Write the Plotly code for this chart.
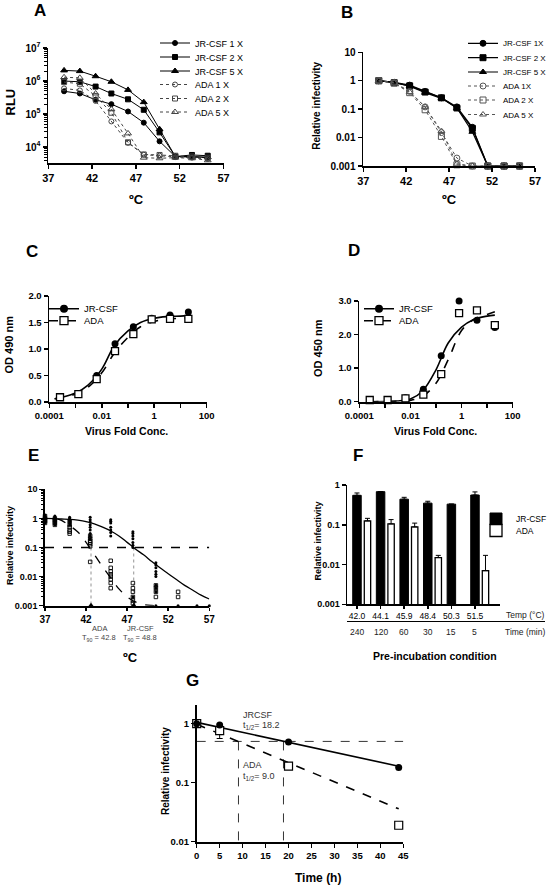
import plotly.graph_objects as go

W, H = 556, 892
FONT = "Liberation Sans, Arial, Helvetica, sans-serif"

# ---------------- data ----------------
# Panels A / B : temperature gradient (deg C)
temps_ab = [38.8, 40.6, 42.4, 44.2, 46.1, 47.9, 49.7, 51.5, 53.4, 55.2]

a_labels = ["JR-CSF 1 X", "JR-CSF 2 X", "JR-CSF 5 X", "ADA 1 X", "ADA 2 X", "ADA 5 X"]
a_jr1 = [4.9e5, 4.2e5, 2.7e5, 2.0e5, 1.2e5, 5.5e4, 1.5e4, 5.2e3, 5.0e3, 4.8e3]
a_jr2 = [1.0e6, 9.5e5, 6.8e5, 4.2e5, 2.8e5, 1.35e5, 2.8e4, 5.2e3, 5.8e3, 5.5e3]
a_jr5 = [2.1e6, 2.0e6, 1.4e6, 9.5e5, 5.4e5, 2.3e5, 3.5e4, 5.2e3, 5.2e3, 5.0e3]
a_ada1 = [6.0e5, 5.2e5, 2.5e5, 6.0e4, 1.35e4, 5.9e3, 5.5e3, 5.0e3, 4.8e3, 4.4e3]
a_ada2 = [9.3e5, 8.3e5, 3.5e5, 1.1e5, 1.4e4, 6.0e3, 5.8e3, 5.5e3, 5.2e3, 4.8e3]
a_ada5 = [1.3e6, 1.25e6, 4.2e5, 1.4e5, 2.6e4, 4.8e3, 4.6e3, 4.8e3, 4.6e3, 4.0e3]
a_axis_marks = [2.2e6, 1.8e5]

b_labels = ["JR-CSF 1X", "JR-CSF 2 X", "JR-CSF 5 X", "ADA 1X", "ADA 2 X", "ADA 5 X"]
b_jr1 = [1.0, 0.88, 0.70, 0.42, 0.25, 0.12, 0.023, 0.001, 0.001, 0.001]
b_jr2 = [1.0, 0.85, 0.66, 0.40, 0.25, 0.11, 0.021, 0.001, 0.001, 0.001]
b_jr5 = [1.0, 0.87, 0.64, 0.38, 0.24, 0.11, 0.016, 0.001, 0.001, 0.001]
b_ada1 = [1.0, 0.86, 0.42, 0.12, 0.015, 0.0019, 0.001, 0.001, 0.001, 0.001]
b_ada2 = [1.0, 0.82, 0.38, 0.095, 0.011, 0.0011, 0.001, 0.001, 0.001, 0.001]
b_ada5 = [1.0, 0.85, 0.40, 0.12, 0.017, 0.0012, 0.001, 0.001, 0.001, 0.001]

# Panels C / D : virus dilution series
conc = [0.000256, 0.00128, 0.0064, 0.032, 0.16, 0.8, 4.0, 20.0]
c_jr = [0.10, 0.16, 0.50, 1.10, 1.42, 1.58, 1.64, 1.70]
c_ada = [0.09, 0.15, 0.43, 0.96, 1.28, 1.56, 1.57, 1.57]
c_fit_x = [0.00016, 0.0003, 0.001, 0.003, 0.01, 0.03, 0.1, 0.3, 1.0, 3.0, 10.0, 20.0]
c_fit_jr = [0.06, 0.09, 0.17, 0.32, 0.62, 1.06, 1.34, 1.50, 1.58, 1.61, 1.62, 1.63]
c_fit_ada = [0.06, 0.08, 0.15, 0.28, 0.55, 0.92, 1.22, 1.42, 1.52, 1.56, 1.58, 1.59]

d_jr = [0.05, 0.05, 0.12, 0.37, 1.37, 3.00, 2.43, 2.21]
d_ada = [0.05, 0.05, 0.10, 0.21, 0.82, 2.64, 2.72, 2.28]
d_fit_x = [0.00025, 0.001, 0.003, 0.01, 0.03, 0.1, 0.3, 1.0, 3.0, 10.0, 20.0]
d_fit_jr = [0.0, 0.005, 0.02, 0.08, 0.32, 0.95, 1.75, 2.22, 2.45, 2.55, 2.58]
d_fit_ada = [0.0, 0.003, 0.01, 0.04, 0.16, 0.55, 1.25, 2.12, 2.45, 2.60, 2.68]

# Panel E : pooled relative infectivity
e_jr_temp = [37.0] * 11 + [38.2] * 8 + [40.0] * 7 + [42.5] * 9 + [45.0] * 7 + [47.7] * 8 + [50.5] * 10 + [53.2, 55.5, 57.0]
e_jr_vals = ([1.3, 1.2, 1.1, 1.05, 1.0, 0.95, 0.9, 0.85, 0.8, 0.75, 0.7]
             + [1.2, 1.1, 1.0, 0.95, 0.9, 0.8, 0.7, 0.6]
             + [1.1, 1.0, 0.9, 0.85, 0.8, 0.7, 0.6]
             + [1.1, 0.9, 0.75, 0.6, 0.5, 0.4, 0.3, 0.25, 0.2]
             + [0.9, 0.8, 0.7, 0.5, 0.4, 0.33, 0.25]
             + [0.35, 0.3, 0.25, 0.2, 0.15, 0.12, 0.1, 0.002]
             + [0.03, 0.025, 0.02, 0.015, 0.012, 0.01, 0.005, 0.004, 0.003, 0.001]
             + [0.001, 0.001, 0.001])
e_ada_temp = [37.0] * 5 + [38.2] * 5 + [40.0] * 6 + [42.5] * 7 + [45.0] * 8 + [47.7] * 6 + [50.5] * 4 + [53.2] * 2
e_ada_vals = ([1.2, 1.0, 0.9, 0.8, 0.7]
              + [1.0, 0.9, 0.8, 0.7, 0.6]
              + [0.8, 0.6, 0.5, 0.4, 0.35, 0.3]
              + [0.25, 0.2, 0.17, 0.15, 0.13, 0.11, 0.032]
              + [0.035, 0.02, 0.015, 0.012, 0.01, 0.008, 0.006, 0.004]
              + [0.006, 0.004, 0.003, 0.002, 0.0015, 0.0012]
              + [0.005, 0.004, 0.003, 0.002]
              + [0.003, 0.002])
e_fit_t = [37, 38, 39, 40, 41, 42, 43, 44, 45, 46, 47, 48, 49, 50, 51, 52, 53, 54, 55, 56, 57]
e_fit_jr = [1.0, 0.98, 0.955, 0.93, 0.87, 0.78, 0.65, 0.5, 0.37, 0.25, 0.15, 0.089, 0.056,
            0.033, 0.02, 0.0126, 0.0079, 0.005, 0.0034, 0.0023, 0.0017]
e_fit_ada_t = [38.5, 39, 40, 41, 42, 43, 44, 45, 46, 47, 48, 49, 50, 51]
e_fit_ada = [0.96, 0.85, 0.56, 0.34, 0.15, 0.058, 0.022, 0.009, 0.0038, 0.002, 0.00135, 0.0011, 0.00102, 0.001]
e_cutoff = 0.1
e_cross_temp = [42.6, 47.8]
e_t90_names = ["ADA", "JR-CSF"]
e_t90_values = ["42.8", "48.8"]

# Panel F : pre-incubation conditions
f_temps = ["42.0", "44.1", "45.9", "48.4", "50.3", "51.5"]
f_times = ["240", "120", "60", "30", "15", "5"]
f_jr = [0.55, 0.68, 0.44, 0.35, 0.33, 0.56]
f_jr_err = [0.08, 0.0, 0.05, 0.04, 0.0, 0.11]
f_ada = [0.125, 0.105, 0.088, 0.015, None, 0.007]
f_ada_err = [0.02, 0.03, 0.022, 0.002, 0.0, 0.01]

# Panel G : decay at 37 C
g_time = [0, 5, 20, 44]
g_jr = [1.0, 0.95, 0.49, 0.18]
g_ada = [1.0, 0.76, 0.19, 0.019]
g_ada_err_minus = [0.0, 0.2, 0.02, 0.0]
g_fit_t = [0, 44]
g_fit_jr = [1.05, 0.19]
g_fit_ada = [0.98, 0.036]
g_half = 0.5
g_half_t = [9.1, 18.9]
g_half_span = [0, 45]
g_half_labels = ["18.2", "9.0"]


# ---------------- helpers ----------------
def xd(a, b):
    return [a / W, b / W]


def yd(top, bottom):
    return [1 - bottom / H, 1 - top / H]


def PX(x):
    return x / W


def PY(y):
    return 1 - y / H


def axis(size=10, bold=True, **kw):
    d = dict(showline=True, linecolor="black", linewidth=1.8, ticks="outside",
             ticklen=4, tickwidth=1.5, tickcolor="black", showgrid=False,
             zeroline=False, mirror=False, fixedrange=True,
             tickfont=dict(family=FONT, size=size, color="black",
                           weight="bold" if bold else "normal"))
    d.update(kw)
    return d


def log_minor(lo, hi):
    vals = []
    for e in range(lo, hi):
        for m in range(2, 10):
            vals.append(m * 10 ** e)
    return dict(ticks="outside", ticklen=2.5, tickwidth=1, tickcolor="black", tickvals=vals)


fig = go.Figure()
legends = {}
LEG_N = [0]


def new_legend(sym_cx, cy, size):
    """One legend box per entry so that entries can be spaced like the original."""
    LEG_N[0] += 1
    key = "legend" if LEG_N[0] == 1 else "legend%d" % LEG_N[0]
    legends[key] = dict(bgcolor="rgba(0,0,0,0)", borderwidth=0, xanchor="left",
                        yanchor="middle", itemwidth=30, itemclick=False,
                        itemdoubleclick=False, x=PX(sym_cx - 21), y=PY(cy),
                        font=dict(family=FONT, size=size, color="black"))
    return key


# ---------------- Panel A ----------------
a_series = [a_jr1, a_jr2, a_jr5, a_ada1, a_ada2, a_ada5]
symbols = ["circle", "square", "triangle-up", "circle-open", "square-open", "triangle-up-open"]
a_leg_y = [43, 57, 71, 84.5, 98.5, 112]
for i, (name, vals, sym) in enumerate(zip(a_labels, a_series, symbols)):
    jr = i < 3
    col = "black" if jr else "#444444"
    fig.add_trace(go.Scatter(
        x=temps_ab, y=vals, name=name, xaxis="x", yaxis="y",
        legend=new_legend(176, a_leg_y[i], 9),
        mode="lines+markers", showlegend=True,
        line=dict(color=col, width=1, dash="solid" if jr else "dot"),
        marker=dict(symbol=sym, size=6 if "triangle" in sym else 5, color=col,
                    line=dict(width=1, color=col))))
fig.add_trace(go.Scatter(
    x=[37 - 0.5] * len(a_axis_marks), y=a_axis_marks, xaxis="x", yaxis="y",
    mode="markers", showlegend=False, cliponaxis=False,
    marker=dict(symbol="triangle-right", size=8, color="black")))

# ---------------- Panel B ----------------
b_series = [b_jr1, b_jr2, b_jr5, b_ada1, b_ada2, b_ada5]
b_leg_y = [43.3, 57.7, 72, 86, 100, 114.5]
for i, (name, vals, sym) in enumerate(zip(b_labels, b_series, symbols)):
    jr = i < 3
    col = "black" if jr else "#555555"
    fig.add_trace(go.Scatter(
        x=temps_ab, y=vals, name=name, xaxis="x2", yaxis="y2",
        legend=new_legend(484, b_leg_y[i], 8),
        mode="lines+markers", showlegend=True, cliponaxis=False,
        line=dict(color=col, width=1.2 if jr else 1, dash="solid" if jr else "dot"),
        marker=dict(symbol=sym, size=6, color=col, line=dict(width=1, color=col))))


# ---------------- Panels C / D ----------------
def dose_panel(xa, ya, leg_x, jr_vals, ada_vals, fx, fjr, fada):
    fig.add_trace(go.Scatter(x=fx, y=fjr, xaxis=xa, yaxis=ya, mode="lines",
                             line=dict(color="black", width=1.6, shape="spline"),
                             showlegend=False))
    fig.add_trace(go.Scatter(x=fx, y=fada, xaxis=xa, yaxis=ya, mode="lines",
                             line=dict(color="black", width=1.6, dash="dash", shape="spline"),
                             showlegend=False))
    fig.add_trace(go.Scatter(x=conc, y=jr_vals, xaxis=xa, yaxis=ya, mode="markers",
                             cliponaxis=False, showlegend=False,
                             marker=dict(symbol="circle", size=7, color="black")))
    fig.add_trace(go.Scatter(x=conc, y=ada_vals, xaxis=xa, yaxis=ya, mode="markers",
                             cliponaxis=False, showlegend=False,
                             marker=dict(symbol="square", size=7, color="white",
                                         line=dict(color="black", width=1.3))))
    # legend entries
    fig.add_trace(go.Scatter(x=[None], y=[None], xaxis=xa, yaxis=ya, name="JR-CSF",
                             legend=new_legend(leg_x, 308.7, 9.5), showlegend=True,
                             mode="lines+markers", line=dict(color="black", width=1.6),
                             marker=dict(symbol="circle", size=8, color="black")))
    fig.add_trace(go.Scatter(x=[None], y=[None], xaxis=xa, yaxis=ya, name="ADA",
                             legend=new_legend(leg_x, 320.7, 9.5), showlegend=True,
                             mode="lines+markers",
                             line=dict(color="black", width=1.6, dash="dash"),
                             marker=dict(symbol="square", size=8, color="white",
                                         line=dict(color="black", width=1.3))))


dose_panel("x3", "y3", 65, c_jr, c_ada, c_fit_x, c_fit_jr, c_fit_ada)
dose_panel("x4", "y4", 380, d_jr, d_ada, d_fit_x, d_fit_jr, d_fit_ada)

# ---------------- Panel E ----------------
fig.add_trace(go.Scatter(x=[37, 57], y=[e_cutoff, e_cutoff], xaxis="x5", yaxis="y5",
                         mode="lines", showlegend=False,
                         line=dict(color="black", width=1.6, dash="dash")))
for t in e_cross_temp:
    fig.add_trace(go.Scatter(x=[t, t], y=[e_cutoff, 0.001], xaxis="x5", yaxis="y5",
                             mode="lines", showlegend=False,
                             line=dict(color="#777777", width=0.8, dash="dot")))
fig.add_trace(go.Scatter(x=e_fit_t, y=e_fit_jr, xaxis="x5", yaxis="y5", mode="lines",
                         showlegend=False, line=dict(color="black", width=1.3, shape="spline")))
fig.add_trace(go.Scatter(x=e_fit_ada_t, y=e_fit_ada, xaxis="x5", yaxis="y5", mode="lines",
                         showlegend=False,
                         line=dict(color="black", width=1.3, dash="dash", shape="spline")))
fig.add_trace(go.Scatter(x=e_ada_temp, y=e_ada_vals, xaxis="x5", yaxis="y5", mode="markers",
                         cliponaxis=False, showlegend=False,
                         marker=dict(symbol="square-open", size=3.5, color="black",
                                     line=dict(width=0.9))))
fig.add_trace(go.Scatter(x=e_jr_temp, y=e_jr_vals, xaxis="x5", yaxis="y5", mode="markers",
                         cliponaxis=False, showlegend=False,
                         marker=dict(symbol="circle", size=3, color="black")))
fig.add_trace(go.Scatter(x=e_cross_temp, y=[0.001] * len(e_cross_temp), xaxis="x5", yaxis="y5",
                         mode="markers", cliponaxis=False, showlegend=False,
                         marker=dict(symbol="triangle-up", size=6, color="black")))

# ---------------- Panel F ----------------
fig.add_trace(go.Bar(x=f_temps, y=f_jr, name="JR-CSF", xaxis="x6", yaxis="y6",
                     legend=new_legend(497, 519, 8.5), showlegend=True,
                     width=0.36, offset=-0.18,
                     marker=dict(color="black", line=dict(color="black", width=1)),
                     error_y=dict(type="data", array=f_jr_err, arrayminus=[0] * len(f_jr),
                                  symmetric=False, color="black", thickness=1, width=2.5)))
fig.add_trace(go.Bar(x=f_temps, y=f_ada, name="ADA", xaxis="x6", yaxis="y6",
                     legend=new_legend(497, 530.5, 8.5), showlegend=True,
                     width=0.27, offset=0.31,
                     marker=dict(color="white", line=dict(color="black", width=1.3)),
                     error_y=dict(type="data", array=f_ada_err, arrayminus=[0] * len(f_ada),
                                  symmetric=False, color="black", thickness=1, width=2.5)))

# ---------------- Panel G ----------------
fig.add_trace(go.Scatter(x=g_half_span, y=[g_half, g_half], xaxis="x7", yaxis="y7", mode="lines",
                         showlegend=False, line=dict(color="black", width=0.8, dash="dash")))
for t in g_half_t:
    fig.add_trace(go.Scatter(x=[t, t], y=[g_half, 0.01], xaxis="x7", yaxis="y7", mode="lines",
                             showlegend=False, line=dict(color="black", width=0.8, dash="dash")))
fig.add_trace(go.Scatter(x=g_fit_t, y=g_fit_jr, xaxis="x7", yaxis="y7", mode="lines",
                         showlegend=False, line=dict(color="black", width=1.6)))
fig.add_trace(go.Scatter(x=g_fit_t, y=g_fit_ada, xaxis="x7", yaxis="y7", mode="lines",
                         showlegend=False, line=dict(color="black", width=1.6, dash="dash")))
fig.add_trace(go.Scatter(x=g_time, y=g_ada, xaxis="x7", yaxis="y7", mode="markers",
                         cliponaxis=False, showlegend=False,
                         error_y=dict(type="data", array=[0] * len(g_ada), arrayminus=g_ada_err_minus,
                                      symmetric=False, color="black", thickness=1, width=3),
                         marker=dict(symbol="square", size=8, color="white",
                                     line=dict(color="black", width=1.2))))
fig.add_trace(go.Scatter(x=g_time, y=g_jr, xaxis="x7", yaxis="y7", mode="markers",
                         cliponaxis=False, showlegend=False,
                         marker=dict(symbol="circle", size=7, color="black")))

# ---------------- Layout ----------------
decade_text = {1e4: "10<sup>4</sup>", 1e5: "10<sup>5</sup>", 1e6: "10<sup>6</sup>", 1e7: "10<sup>7</sup>"}
inf_vals = [0.001, 0.01, 0.1, 1, 10]
inf_text = ["0.001", "0.01", "0.1", "1", "10"]
conc_ticks = [1e-4, 1e-2, 1, 100]
conc_text = ["0.0001", "0.01", "1", "100"]
conc_minor = dict(ticks="outside", ticklen=4, tickwidth=1.5, tickcolor="black",
                  tickvals=[1e-3, 1e-1, 10])

fig.update_layout(
    width=W, height=H, margin=dict(l=0, r=0, t=0, b=0, autoexpand=False),
    paper_bgcolor="white", plot_bgcolor="white", template="none",
    hovermode=False, barmode="group",
    font=dict(family=FONT, color="black"),
    # A
    xaxis=axis(11, domain=xd(48.3, 223.5), anchor="y", range=[37, 57],
               tickvals=[37, 42, 47, 52, 57]),
    yaxis=axis(10, domain=yd(48, 163), anchor="x", type="log", range=[3.52, 7],
               tickvals=list(decade_text.keys()), ticktext=list(decade_text.values()),
               minor=log_minor(3, 7)),
    # B
    xaxis2=axis(11, domain=xd(363.3, 535), anchor="y2", range=[37, 57],
                tickvals=[37, 42, 47, 52, 57]),
    yaxis2=axis(10, domain=yd(52.3, 166), anchor="x2", type="log", range=[-3, 1],
                tickvals=inf_vals, ticktext=inf_text),
    # C
    xaxis3=axis(9.5, domain=xd(49.3, 206.7), anchor="y3", type="log", range=[-4, 2],
                tickvals=conc_ticks, ticktext=conc_text, minor=conc_minor),
    yaxis3=axis(9.5, domain=yd(296, 402), anchor="x3", range=[0, 2],
                tickvals=[0, 0.5, 1.0, 1.5, 2.0], tickformat=".1f"),
    # D
    xaxis4=axis(9.5, domain=xd(359.3, 512.7), anchor="y4", type="log", range=[-4, 2],
                tickvals=conc_ticks, ticktext=conc_text, minor=conc_minor),
    yaxis4=axis(9.5, domain=yd(301, 401.7), anchor="x4", range=[0, 3],
                tickvals=[0, 1, 2, 3], tickformat=".1f"),
    # E
    xaxis5=axis(10, domain=xd(45, 209.3), anchor="y5", range=[37, 57],
                tickvals=[37, 42, 47, 52, 57], ticklen=3),
    yaxis5=axis(9, domain=yd(489.3, 605.7), anchor="x5", type="log", range=[-3, 1],
                tickvals=inf_vals, ticktext=inf_text, minor=log_minor(-3, 1)),
    # F
    xaxis6=axis(8.5, bold=False, domain=xd(347.3, 500), anchor="y6", type="category",
                range=[-0.41, 6.06], ticklen=3),
    yaxis6=axis(9, domain=yd(485, 604.3), anchor="x6", type="log", range=[-3, 0],
                tickvals=inf_vals[:4], ticktext=inf_text[:4]),
    # G
    xaxis7=axis(9.5, domain=xd(196.7, 403.3), anchor="y7", range=[0, 45],
                tickvals=[0, 5, 10, 15, 20, 25, 30, 35, 40, 45]),
    yaxis7=axis(9.5, domain=yd(705, 841.7), anchor="x7", type="log", range=[-2, 0.316],
                tickvals=[0.01, 0.1, 1], ticktext=["0.01", "0.1", "1"]),
    **legends,
)

ann = []


def label(text, x, y, size, bold=True, angle=0, color="black", xanchor="center"):
    ann.append(dict(text=text, x=PX(x), y=PY(y), xref="paper", yref="paper",
                    showarrow=False, textangle=angle, xanchor=xanchor, yanchor="middle",
                    font=dict(family=FONT, size=size, color=color,
                              weight="bold" if bold else "normal")))


# panel letters
for t, x, y in [("A", 39.5, 11), ("B", 346.5, 12.5), ("C", 31.7, 251.7), ("D", 354, 251),
                ("E", 33, 455), ("F", 358, 455), ("G", 192.5, 680)]:
    label(t, x, y, 17)

# axis titles
label("RLU", 10, 102.5, 13, angle=-90)
label("ºC", 136, 199, 13)
label("Relative infectivity", 317, 105.7, 10, angle=-90)
label("ºC", 449.5, 199, 13)
label("OD 490 nm", 8.5, 345, 11, angle=-90)
label("Virus Fold Conc.", 126, 431, 10.5)
label("OD 450 nm", 318, 348, 11, angle=-90)
label("Virus Fold Conc.", 435, 431, 10.5)
label("Relative infectivity", 10, 546, 9, angle=-90)
label("ºC", 130, 657, 13)
label("Relative infectivity", 317.5, 541, 9, angle=-90)
label("Pre-incubation condition", 435, 656, 10.5)
label("Relative infectivity", 165, 771, 10, angle=-90)
label("Time (h)", 318, 878, 12)

# E T90 labels
for name, val, xc in zip(e_t90_names, e_t90_values, [99, 140]):
    label(name, xc, 628.5, 7.5, bold=False, color="#444444")
    label("T<sub>90</sub> = " + val, xc, 638, 7.5, bold=False, color="#444444")

# F time row
for i, tm in enumerate(f_times):
    ann.append(dict(text=tm, x=i, y=PY(631.5), xref="x6", yref="paper", showarrow=False,
                    xanchor="center", yanchor="middle",
                    font=dict(family=FONT, size=8.5, color="#222222")))
label("Temp (°C)", 525, 615, 8.5, bold=False, color="#222222")
label("Time (min)", 525, 631.5, 8.5, bold=False, color="#222222")

# G half-life labels
label("JRCSF", 240.7, 715, 9, bold=False, color="#333333", xanchor="left")
label("t<sub>1/2</sub>= " + g_half_labels[0], 240.7, 725, 9, bold=False, color="#333333", xanchor="left")
label("ADA", 240.7, 765, 9, bold=False, color="#333333", xanchor="left")
label("t<sub>1/2</sub>= " + g_half_labels[1], 240.7, 776, 9, bold=False, color="#333333", xanchor="left")

fig.update_layout(annotations=ann,
                  shapes=[dict(type="line", xref="paper", yref="paper",
                               x0=PX(347), x1=PX(545), y0=PY(621.5), y1=PY(621.5),
                               line=dict(color="black", width=1))])

# remove the browser's default page margin so the figure sits at the window origin
fig.write_html("out.html", config={"displayModeBar": False, "staticPlot": True},
               post_script="document.body.style.margin='0';document.body.style.overflow='hidden';")
